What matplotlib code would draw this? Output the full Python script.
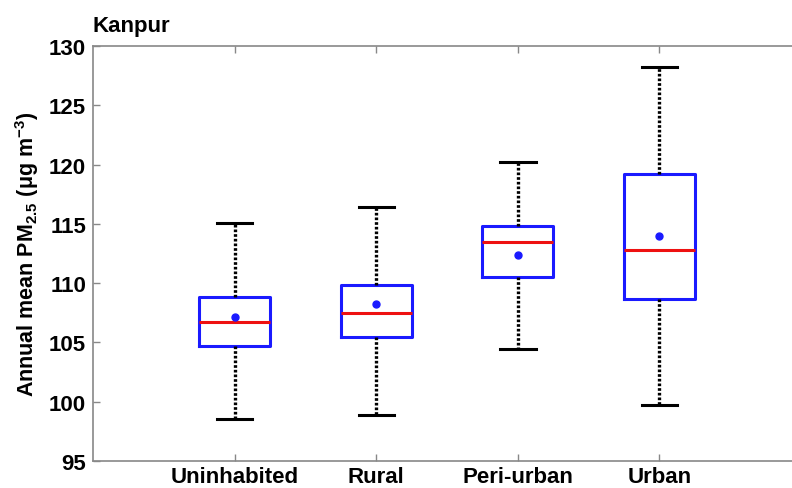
import matplotlib
matplotlib.use("Agg")
import matplotlib.pyplot as plt

plt.rcParams['font.family'] = ['Liberation Sans', 'DejaVu Sans']
plt.rcParams['mathtext.fontset'] = 'custom'
plt.rcParams['mathtext.rm'] = 'Liberation Sans:bold'
plt.rcParams['mathtext.it'] = 'Liberation Sans:bold'
plt.rcParams['mathtext.bf'] = 'Liberation Sans:bold'

categories = ["Uninhabited", "Rural", "Peri-urban", "Urban"]
whisker_low = [98.55, 98.9, 104.45, 99.75]
q1 = [104.7, 105.45, 110.5, 108.65]
median = [106.7, 107.5, 113.45, 112.8]
q3 = [108.85, 109.85, 114.85, 119.2]
whisker_high = [115.1, 116.45, 120.2, 128.25]
mean = [107.15, 108.25, 112.35, 114.0]
yticks = [95, 100, 105, 110, 115, 120, 125, 130]

stats = []
for i, name in enumerate(categories):
    stats.append(dict(label=name, whislo=whisker_low[i], q1=q1[i], med=median[i],
                      q3=q3[i], whishi=whisker_high[i], mean=mean[i], fliers=[]))

fig = plt.figure(figsize=(7.92, 4.89), dpi=100)
ax = fig.add_axes([93 / 792, 27 / 489, 708 / 792, 415 / 489])

positions = list(range(1, len(categories) + 1))
ax.bxp(stats, positions=positions, widths=0.5, showmeans=True, showfliers=False,
       boxprops=dict(color='#1a1aff', linewidth=2.2),
       medianprops=dict(color='#ee1111', linewidth=2.2),
       whiskerprops=dict(color='black', linewidth=2.4, linestyle=(0, (0.8, 0.6))),
       capprops=dict(color='black', linewidth=2.2),
       capwidths=0.25,
       meanprops=dict(marker='o', markerfacecolor='#1a1aff', markeredgecolor='#1a1aff',
                      markersize=5))

ax.set_xlim(0, 5)
ax.set_ylim(95, 130)
ax.set_yticks(yticks)
ax.set_xticks(positions)
ax.set_xticklabels(categories, fontsize=16, fontweight='bold')
ax.set_yticklabels([str(t) for t in yticks], fontsize=16, fontweight='bold')
ax.tick_params(direction='in', length=5, width=1, color='#888888', top=True, right=True)
ax.tick_params(axis='x', pad=3.5)
ax.tick_params(axis='y', pad=5)
for s in ax.spines.values():
    s.set_color('#888888')
    s.set_linewidth(1.2)

ax.set_ylabel(r"Annual mean PM$_{2.5}$ ($\mathregular{\mu}$g m$^{-3}$)", fontsize=15.5,
              fontweight='bold', labelpad=6)
ax.set_title("Kanpur", loc='left', fontsize=16, fontweight='bold', pad=11)

fig.savefig("out.png", dpi=100)
